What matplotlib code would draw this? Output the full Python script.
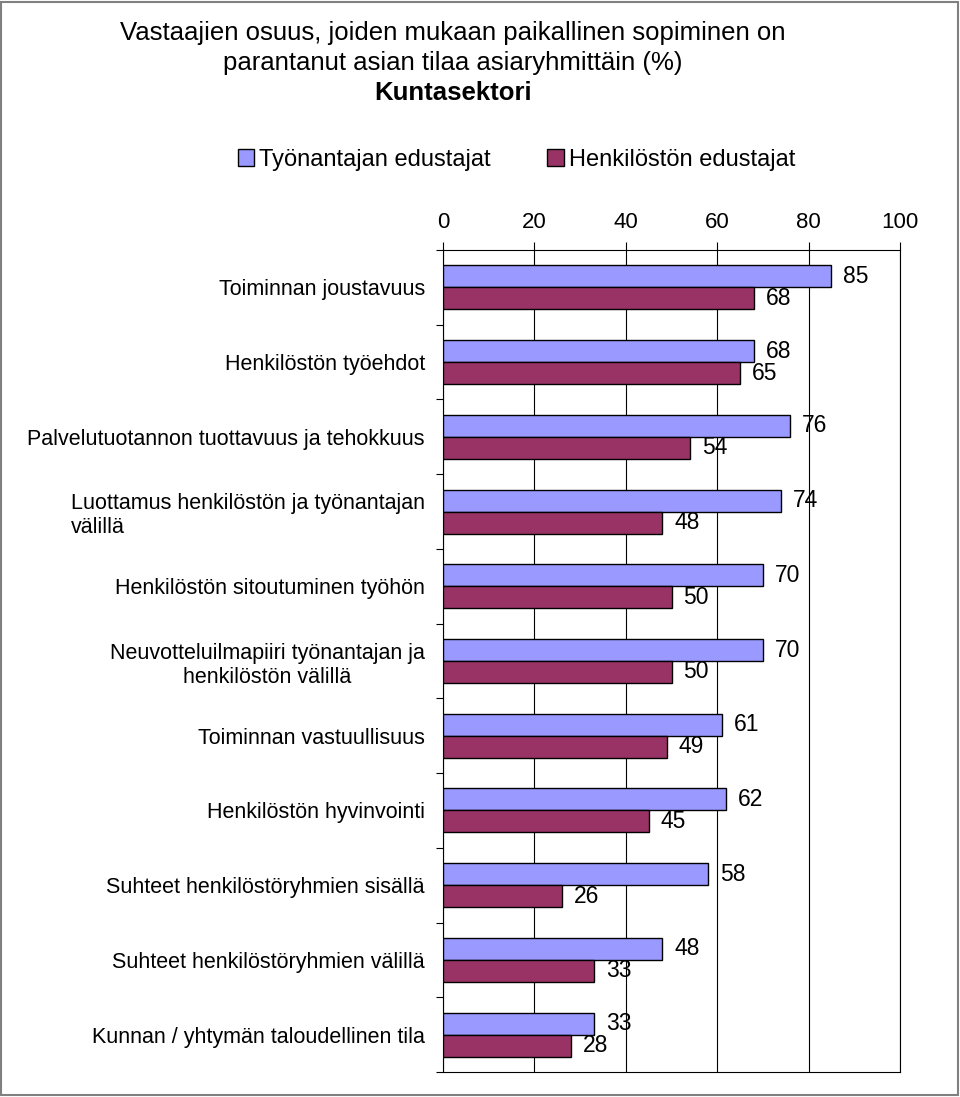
import numpy as np
import matplotlib.pyplot as plt
from matplotlib.patches import Rectangle

plt.rcParams['font.family'] = ['Liberation Sans', 'DejaVu Sans']

categories = [
    'Toiminnan joustavuus',
    'Henkilöstön työehdot',
    'Palvelutuotannon tuottavuus ja tehokkuus',
    'Luottamus henkilöstön ja työnantajan\nvälillä',
    'Henkilöstön sitoutuminen työhön',
    'Neuvotteluilmapiiri työnantajan ja\nhenkilöstön välillä',
    'Toiminnan vastuullisuus',
    'Henkilöstön hyvinvointi',
    'Suhteet henkilöstöryhmien sisällä',
    'Suhteet henkilöstöryhmien välillä',
    'Kunnan / yhtymän taloudellinen tila',
]
tyonantaja = [85, 68, 76, 74, 70, 70, 61, 62, 58, 48, 33]
henkilosto = [68, 65, 54, 48, 50, 50, 49, 45, 26, 33, 28]
series_names = ['Työnantajan edustajat', 'Henkilöstön edustajat']
xticks = [0, 20, 40, 60, 80, 100]

fig = plt.figure(figsize=(9.6, 10.97), dpi=100)
ax = fig.add_axes([443 / 960, 1 - 1072 / 1097, 457 / 960, 822 / 1097])

y = np.arange(len(categories))
h = 0.294
b1 = ax.barh(y - h / 2, tyonantaja, height=h, color='#9999FF', edgecolor='black',
             linewidth=1, label=series_names[0], zorder=3)
b2 = ax.barh(y + h / 2, henkilosto, height=h, color='#993366', edgecolor='black',
             linewidth=1, label=series_names[1], zorder=3)

for i in range(len(categories)):
    ax.text(tyonantaja[i] + 2.6, y[i] - h / 2, str(tyonantaja[i]), va='center',
            ha='left', fontsize=16.5, zorder=4)
    ax.text(henkilosto[i] + 2.6, y[i] + h / 2, str(henkilosto[i]), va='center',
            ha='left', fontsize=16.5, zorder=4)

ax.set_xlim(0, 100)
ax.set_ylim(len(categories) - 0.5, -0.5)
ax.set_xticks(xticks)
ax.xaxis.tick_top()
ax.tick_params(axis='x', direction='out', length=6, width=0.8, labelsize=16, pad=6)
ax.grid(axis='x', color='black', linewidth=0.8, zorder=0)

ax.set_yticks(y)
ax.set_yticklabels(categories, fontsize=15.5)
for lab in ax.get_yticklabels():
    lab.set_multialignment('left' if lab.get_text().startswith('Luottamus') else 'center')
ax.tick_params(axis='y', length=0, pad=13)
ax.set_yticks(np.arange(len(categories) + 1) - 0.5, minor=True)
ax.tick_params(axis='y', which='minor', length=5, width=0.8, direction='out')
for s in ax.spines.values():
    s.set_linewidth(0.8)

fig.text(0.472, 0.970, 'Vastaajien osuus, joiden mukaan paikallinen sopiminen on',
         ha='center', va='center', fontsize=18.5)
fig.text(0.472, 0.943, 'parantanut asian tilaa asiaryhmittäin (%)',
         ha='center', va='center', fontsize=18.5)
fig.text(0.472, 0.915, 'Kuntasektori', ha='center', va='center', fontsize=18.5,
         fontweight='bold')

fig.legend(handles=[b1, b2], labels=series_names, loc='center',
           bbox_to_anchor=(0.538, 1 - 160 / 1097), ncol=2, frameon=False,
           fontsize=17, handlelength=0.7, handleheight=0.7, handletextpad=0.2,
           columnspacing=2.4)

fig.patches.append(Rectangle((0.001, 0.002), 0.997, 0.996, transform=fig.transFigure,
                             fill=False, edgecolor='#808080', linewidth=1.5))

fig.savefig('out.png', dpi=100)
